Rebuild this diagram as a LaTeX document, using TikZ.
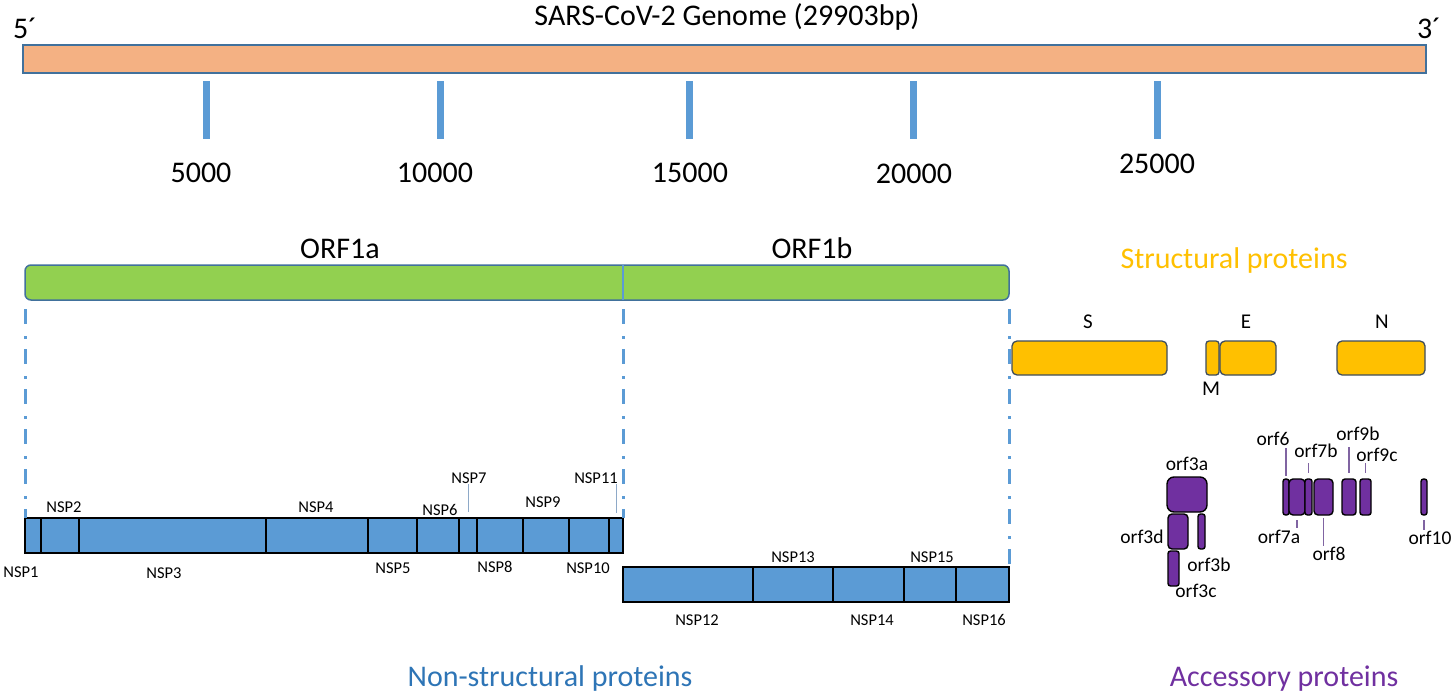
\documentclass[tikz,border=0pt]{standalone}
\usepackage{fontspec}
\setmainfont{Carlito}
\definecolor{genomefill}{HTML}{F4B183}
\definecolor{edge}{HTML}{41719C}
\definecolor{edgetwo}{HTML}{3E4E5E}
\definecolor{nspblue}{HTML}{5B9BD5}
\definecolor{orfgreen}{HTML}{92D050}
\definecolor{gold}{HTML}{FFC000}
\definecolor{purp}{HTML}{7030A0}
\definecolor{txtblue}{HTML}{2E75B6}
\definecolor{leaderblue}{HTML}{8EA9C8}
\definecolor{lilac}{HTML}{8064A2}
\newcommand\pbox[6]{\node[#2, minimum width={(#5-#3)*1pt}, minimum height={(#6-#4)*1pt}] (#1) at ({(#3+#5)/2},{(#4+#6)/2}) {};}
\tikzset{
  boxbase/.style={rectangle, inner sep=0pt, outer sep=0pt},
  genome/.style={boxbase, draw=edge, fill=genomefill, line width=1.5pt},
  tickmark/.style={boxbase, fill=nspblue},
  orfbar/.style={boxbase, draw=edge, fill=orfgreen, line width=1.5pt, rounded corners=6pt},
  nspseg/.style={boxbase, draw=black, fill=nspblue, line width=1.1pt},
  spbox/.style={boxbase, draw=edgetwo, fill=gold, line width=1.3pt, rounded corners=5pt},
  accbox/.style={boxbase, draw=black, fill=purp, line width=1.4pt, rounded corners=2.5pt},
  tbig/.style={font=\fontsize{30}{36}\selectfont},
  tmid/.style={font=\fontsize{21}{25}\selectfont},
  torf/.style={font=\fontsize{19.5}{23}\selectfont},
  tnsp/.style={font=\fontsize{16.5}{20}\selectfont},
  dd/.style={draw=nspblue, line width=3pt, dash pattern=on 15pt off 12pt on 3pt off 10pt},
  nspleader/.style={draw=leaderblue, line width=1pt},
  accleader/.style={draw=lilac, line width=1.5pt},
  frame/.style={draw=black, line width=2pt}
}
\begin{document}
\begin{tikzpicture}[x=1pt,y=-1pt, every node/.style={inner sep=1pt, outer sep=0pt}]
\path[use as bounding box, fill=white] (0,0) rectangle (1456,696);

% ---- genome ----
\node[tbig, anchor=base] (title) at (727,25) {SARS-CoV-2 Genome (29903bp)};
\node[tbig, anchor=base west] (end5) at (12,38) {5´};
\node[tbig, anchor=base west] (end3) at (1416,38) {3´};
\pbox{genome}{genome}{23}{45}{1426}{73}
\pbox{k1}{tickmark}{203.2}{81}{210.2}{139}
\pbox{k2}{tickmark}{437.2}{81}{444.2}{139}
\pbox{k3}{tickmark}{685.5}{81}{692.5}{139}
\pbox{k4}{tickmark}{909.5}{81}{916.5}{139}
\pbox{k5}{tickmark}{1153.5}{81}{1160.5}{139}
\node[tbig, anchor=base] (t5) at (201,182) {5000};
\node[tbig, anchor=base] (t10) at (435,182) {10000};
\node[tbig, anchor=base] (t15) at (690,182) {15000};
\node[tbig, anchor=base] (t20) at (914,183) {20000};
\node[tbig, anchor=base] (t25) at (1157,173) {25000};

% ---- ORF bar ----
\node[tbig, anchor=base] (lorfa) at (340,258) {ORF1a};
\node[tbig, anchor=base] (lorfb) at (812,258) {ORF1b};
\pbox{orf}{orfbar}{25}{265}{1009}{300}
\coordinate (div) at (623,0);
\draw[draw=nspblue, line width=2pt] (div |- orf.north) -- (div |- orf.south);

% ---- NSP row 1 ----
\pbox{n1}{nspseg}{25}{518}{41}{553}
\pbox{n2}{nspseg}{41}{518}{79}{553}
\pbox{n3}{nspseg}{79}{518}{266}{553}
\pbox{n4}{nspseg}{266}{518}{368}{553}
\pbox{n5}{nspseg}{368}{518}{417}{553}
\pbox{n6}{nspseg}{417}{518}{459}{553}
\pbox{n7}{nspseg}{459}{518}{477}{553}
\pbox{n8}{nspseg}{477}{518}{523}{553}
\pbox{n9}{nspseg}{523}{518}{569}{553}
\pbox{n10}{nspseg}{569}{518}{609}{553}
\pbox{n11}{nspseg}{609}{518}{623}{553}
\draw[frame] (n1.north west) rectangle (n11.south east);
% ---- NSP row 2 ----
\pbox{n12}{nspseg}{623}{567}{753}{602}
\pbox{n13}{nspseg}{753}{567}{833}{602}
\pbox{n14}{nspseg}{833}{567}{904}{602}
\pbox{n15}{nspseg}{904}{567}{956}{602}
\pbox{n16}{nspseg}{956}{567}{1009}{602}
\draw[frame] (n12.north west) rectangle (n16.south east);

% dash-dot guides
\draw[dd] ([yshift=-9pt]orf.south west) -- (n1.north west);
\draw[dd] ([yshift=-9pt]div |- orf.south) -- (n11.north east);
\draw[dd] ([yshift=-9pt]orf.south east) -- (n16.north east);

% NSP labels
\node[tnsp, anchor=base] (l1) at (21,577) {NSP1};
\node[tnsp, anchor=base] (l2) at (64,512) {NSP2};
\node[tnsp, anchor=base] (l3) at (164,578) {NSP3};
\node[tnsp, anchor=base] (l4) at (316,512) {NSP4};
\node[tnsp, anchor=base] (l5) at (393,573) {NSP5};
\node[tnsp, anchor=base] (l6) at (440,515) {NSP6};
\node[tnsp, anchor=base] (l7) at (469,483) {NSP7};
\node[tnsp, anchor=base] (l8) at (495,572) {NSP8};
\node[tnsp, anchor=base] (l9) at (543,507) {NSP9};
\node[tnsp, anchor=base] (l10) at (588,573) {NSP10};
\node[tnsp, anchor=base] (l11) at (596,483) {NSP11};
\node[tnsp, anchor=base] (l12) at (697,625) {NSP12};
\node[tnsp, anchor=base] (l13) at (793,562) {NSP13};
\node[tnsp, anchor=base] (l14) at (872,625) {NSP14};
\node[tnsp, anchor=base] (l15) at (932,562) {NSP15};
\node[tnsp, anchor=base] (l16) at (984,625) {NSP16};
\draw[nspleader, shorten >=6pt] (l7.south -| n7.north) -- (n7.north);
\draw[nspleader, shorten >=5pt] (l11.south -| n11.north) -- (n11.north);

% ---- structural proteins ----
\node[tbig, anchor=base, text=gold] (lstruct) at (1234,268) {Structural proteins};
\pbox{S}{spbox}{1012}{341}{1167}{375}
\pbox{M}{spbox, rounded corners=3pt}{1206}{341}{1219}{375}
\pbox{E}{spbox}{1220}{341}{1276}{375}
\pbox{N}{spbox}{1337}{341}{1425}{375}
\node[tmid, anchor=base] (lS) at (1088,328) {S};
\node[tmid, anchor=base] (lE) at (1246,328) {E};
\node[tmid, anchor=base] (lN) at (1382,328) {N};
\node[tmid, anchor=base] (lM) at (1211,395) {M};

% ---- accessory proteins ----
\pbox{o3a}{accbox, rounded corners=7pt}{1167}{477}{1207}{512}
\pbox{o3d}{accbox, rounded corners=4pt}{1168}{514}{1188}{549}
\pbox{o3b}{accbox}{1198}{514}{1205}{549}
\pbox{o3c}{accbox}{1168}{551}{1179}{586}
\pbox{o6}{accbox}{1283}{479}{1289}{515}
\pbox{o7a}{accbox, rounded corners=4pt}{1289}{479}{1305}{515}
\pbox{o7b}{accbox}{1305}{479}{1312}{515}
\pbox{o8}{accbox, rounded corners=4pt}{1314}{479}{1333}{515}
\pbox{o9b}{accbox, rounded corners=3pt}{1342}{479}{1356}{515}
\pbox{o9c}{accbox}{1360}{479}{1371}{515}
\pbox{o10}{accbox}{1421}{479}{1427}{515}
\node[torf, anchor=base] (lo3a) at (1187,470) {orf3a};
\node[torf, anchor=base] (lo3d) at (1142,543) {orf3d};
\node[torf, anchor=base] (lo3b) at (1209,571) {orf3b};
\node[torf, anchor=base] (lo3c) at (1196,597) {orf3c};
\node[torf, anchor=base] (lo6) at (1273,445) {orf6};
\node[torf, anchor=base] (lo7b) at (1316,457) {orf7b};
\node[torf, anchor=base] (lo9b) at (1358,440) {orf9b};
\node[torf, anchor=base] (lo9c) at (1377,461) {orf9c};
\node[torf, anchor=base] (lo7a) at (1279,543) {orf7a};
\node[torf, anchor=base] (lo8) at (1329,560) {orf8};
\node[torf, anchor=base] (lo10) at (1430,544) {orf10};
\draw[accleader, shorten <=2pt, shorten >=3pt] (lo6.south -| o6.north) -- (o6.north);
\draw[accleader, shorten <=5pt, shorten >=6pt] (lo7b.south -| o7b.north) -- (o7b.north);
\draw[accleader, shorten <=6pt, shorten >=6pt] (lo9b.south -| o9b.north) -- (o9b.north);
\draw[accleader, shorten <=1pt, shorten >=6pt] (lo9c.south -| o9c.north) -- (o9c.north);
\draw[accleader, shorten <=5pt, shorten >=1pt] (o7a.south) -- (o7a.south |- lo7a.north);
\draw[accleader, shorten <=3pt] (o8.south) -- (o8.south |- lo8.north);
\draw[accleader, shorten <=5pt] (o10.south) -- (o10.south |- lo10.north);

% ---- bottom captions ----
\node[tbig, anchor=base, text=txtblue] (lnon) at (550,686) {Non-structural proteins};
\node[tbig, anchor=base, text=purp] (lacc) at (1284,686) {Accessory proteins};
\end{tikzpicture}
\end{document}
